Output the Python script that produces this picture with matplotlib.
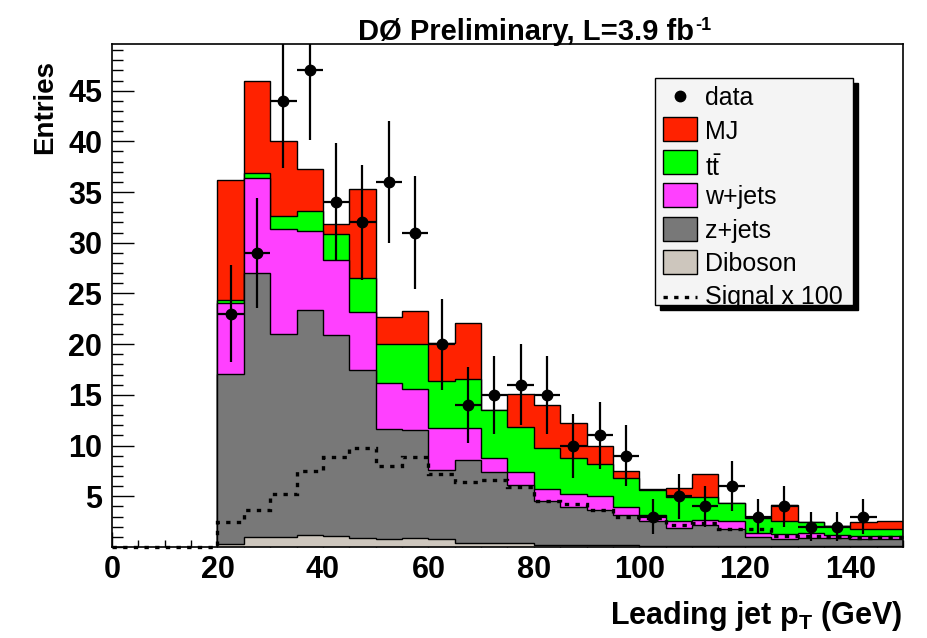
import numpy as np
import matplotlib
matplotlib.use("Agg")
import matplotlib.pyplot as plt
from matplotlib.patches import Rectangle
from matplotlib.lines import Line2D
from matplotlib.ticker import MultipleLocator

plt.rcParams['font.family'] = ['Liberation Sans', 'DejaVu Sans']
plt.rcParams['mathtext.fontset'] = 'custom'
plt.rcParams['mathtext.rm'] = 'Liberation Sans'
plt.rcParams['mathtext.it'] = 'Liberation Sans'
plt.rcParams['mathtext.bf'] = 'Liberation Sans:bold'

# ---------------- data ----------------
bin_width = 5.0
stack_lo = 20.0          # first filled bin edge (GeV)
sig_lo = 0.0             # signal histogram starts at 0 GeV

diboson = [0.3, 1.0, 0.95, 1.15, 1.05, 0.85, 0.75, 0.9, 0.8, 0.4, 0.4, 0.4, 0.15,
           0.15, 0.15, 0.15, 0.1, 0.1, 0.1, 0.1, 0.1, 0.1, 0.1, 0.1, 0.1, 0.1]
zjets = [16.8, 26.0, 20.1, 22.25, 19.85, 16.65, 10.85, 10.6, 6.8, 8.15, 7.0, 5.7, 4.35,
         3.75, 3.45, 3.05, 2.5, 1.8, 2.05, 1.65, 0.9, 0.65, 0.8, 0.75, 0.65, 0.65]
wjets = [7.0, 9.4, 10.35, 7.8, 7.4, 5.7, 4.6, 4.1, 4.15, 3.2, 1.4, 1.3, 1.2,
         1.3, 1.4, 0.75, 0.6, 0.65, 0.55, 0.85, 0.4, 0.5, 0.5, 0.3, 0.35, 0.35]
ttbar = [0.3, 0.5, 1.2, 1.9, 2.6, 3.3, 3.8, 4.4, 4.65, 4.85, 4.7, 4.4, 4.1,
         3.6, 3.2, 2.85, 2.4, 2.35, 2.2, 1.7, 1.45, 1.3, 1.1, 0.9, 0.65, 0.65]
mj = [11.8, 9.1, 7.4, 4.2, 0.95, 8.8, 2.7, 3.3, 3.7, 5.5, 0.0, 3.3, 4.2,
      3.45, 1.75, 0.7, 0.1, 0.9, 2.3, 0.0, 0.0, 1.55, 0.0, 0.0, 0.75, 0.8]
data_counts = [23, 29, 44, 47, 34, 32, 36, 31, 20, 14, 15, 16, 15,
               10, 11, 9, 3, 5, 4, 6, 3, 4, 2, 2, 3, 0]
signal_x100 = [0, 0, 0, 0, 2.5, 3.65, 5.2, 7.5, 8.9, 9.75, 8.0, 8.85, 7.15, 6.4, 6.6,
               5.9, 4.5, 4.25, 3.6, 3.0, 2.9, 2.2, 2.35, 1.8, 1.8, 1.1, 1.1, 0.95, 0.9, 0.95]

labels = ['data', 'MJ', r'$\mathrm{t\bar{t}}$', 'w+jets', 'z+jets', 'Diboson', 'Signal x 100']
colors = {'MJ': '#ff2200', 'tt': '#00ff00', 'w': '#ff40ff', 'z': '#787878', 'dib': '#cdc6bd'}

# ---------------- figure ----------------
W, H = 928, 638
fig = plt.figure(figsize=(W / 100, H / 100), dpi=100)
fx = lambda px: px / W
fy = lambda py: 1 - py / H

ax_l, ax_r, ax_t, ax_b = 112, 903, 44, 547
ax = fig.add_axes([fx(ax_l), fy(ax_b), fx(ax_r) - fx(ax_l), fy(ax_t) - fy(ax_b)])
ax.set_xlim(0, 150)
ax.set_ylim(0, 49.6)
ax.set_axisbelow(True)

nb = len(data_counts)
edges = stack_lo + bin_width * np.arange(nb + 1)
centers = 0.5 * (edges[:-1] + edges[1:])

comps = [np.array(diboson), np.array(zjets), np.array(wjets), np.array(ttbar), np.array(mj)]
cols = [colors['dib'], colors['z'], colors['w'], colors['tt'], colors['MJ']]
cum = np.cumsum(np.vstack(comps), axis=0)

# draw from top of stack to bottom
for i in range(len(comps) - 1, -1, -1):
    ax.stairs(cum[i], edges, fill=True, facecolor=cols[i], linewidth=0, baseline=0, zorder=2)
    ax.stairs(cum[i], edges, fill=False, color='black', linewidth=1.0, baseline=0, zorder=2)

# signal
sig = np.array(signal_x100)
sig_edges = sig_lo + bin_width * np.arange(len(sig) + 1)
ax.stairs(sig, sig_edges, color='black', linewidth=2.4, linestyle=(0, (1.3, 1.9)),
          baseline=None, zorder=3, clip_on=False)

# data
dc = np.array(data_counts, dtype=float)
m = dc > 0
ax.errorbar(centers[m], dc[m], yerr=np.sqrt(dc[m]), xerr=bin_width / 2, fmt='o', color='black',
            ms=7.5, elinewidth=1.6, capsize=0, zorder=5)

# axes styling
for s in ax.spines.values():
    s.set_linewidth(1.2)
ax.set_xticks([0, 20, 40, 60, 80, 100, 120, 140])
ax.xaxis.set_minor_locator(MultipleLocator(5))
ax.set_yticks([5, 10, 15, 20, 25, 30, 35, 40, 45])
ax.yaxis.set_minor_locator(MultipleLocator(1))
ax.tick_params(axis='both', which='both', direction='in', top=False, right=False, width=1)
ax.tick_params(axis='y', which='major', length=16, pad=7)
ax.tick_params(axis='y', which='minor', length=8)
ax.tick_params(axis='x', which='major', length=11, pad=6)
ax.tick_params(axis='x', which='minor', length=5)
for lab in ax.get_xticklabels() + ax.get_yticklabels():
    lab.set_fontsize(22)
    lab.set_fontweight('bold')

# titles
title = fig.text(fx(358), fy(40), 'DØ Preliminary, L=3.9 fb', fontsize=21,
                 fontweight='bold', ha='left', va='baseline')
fig.canvas.draw()
bb = title.get_window_extent()
fig.text(bb.x1 / W + 1.5 / W, fy(40) + 10 / H, '-1', fontsize=13, fontweight='bold',
         ha='left', va='baseline')
fig.text(fx(903), fy(624), r'Leading jet p$_{\mathbf{T}}$ (GeV)', fontsize=22,
         fontweight='bold', ha='right', va='baseline')
fig.text(fx(45), fy(60), 'Entries', fontsize=20, fontweight='bold', rotation=90,
         ha='center', va='top')

# legend (manual, ROOT style)
lx0, lx1, ly0, ly1 = 655, 853, 78, 305
sh = 5
fig.add_artist(Rectangle((fx(lx0 + sh), fy(ly1 + sh)), fx(lx1) - fx(lx0), fy(ly0) - fy(ly1),
                         transform=fig.transFigure, facecolor='black', edgecolor='black', zorder=10))
fig.add_artist(Rectangle((fx(lx0), fy(ly1)), fx(lx1) - fx(lx0), fy(ly0) - fy(ly1),
                         transform=fig.transFigure, facecolor='#f4f4f4', edgecolor='black',
                         linewidth=1, zorder=11))
rows = [96, 128.7, 162, 195.3, 228.7, 262, 297]
base_off = [9, 10, 14, 9, 9, 9, 7]
hx0, hx1 = 663, 697
box_cols = [None, colors['MJ'], colors['tt'], colors['w'], colors['z'], colors['dib'], None]
for k, (ry, lab) in enumerate(zip(rows, labels)):
    if k == 0:
        fig.add_artist(Line2D([fx((hx0 + hx1) / 2)], [fy(ry)], marker='o', color='black', ms=7.5,
                              transform=fig.transFigure, zorder=12))
    elif k == 6:
        fig.add_artist(Line2D([fx(hx0), fx(hx1)], [fy(ry), fy(ry)], color='black', lw=2.4,
                              linestyle=(0, (1.3, 1.9)), transform=fig.transFigure, zorder=12))
    else:
        fig.add_artist(Rectangle((fx(hx0), fy(ry + 12)), fx(hx1) - fx(hx0), fy(ry - 12) - fy(ry + 12),
                                 transform=fig.transFigure, facecolor=box_cols[k],
                                 edgecolor='black', linewidth=1, zorder=12))
    fig.text(fx(705), fy(ry + base_off[k]), lab, fontsize=18, ha='left', va='baseline', zorder=12)

fig.savefig('out.png', dpi=100)
